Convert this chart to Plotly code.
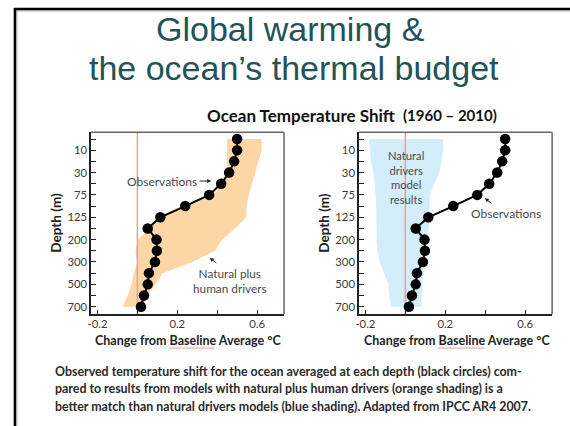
import plotly.graph_objects as go

# ---------------- data ----------------
depth_labels = ["5", "10", "20", "30", "50", "75", "100", "125",
                "150", "200", "250", "300", "400", "500", "600", "700"]
labelled_depths = ["10", "30", "75", "125", "200", "300", "500", "700"]
obs_change = [0.50, 0.50, 0.485, 0.46, 0.42, 0.36, 0.24, 0.115,
              0.052, 0.096, 0.098, 0.088, 0.058, 0.052, 0.033, 0.018]
human_lo = [0.449, 0.45, 0.45, 0.444, 0.42, 0.385, 0.22, 0.10,
            0.06, 0.005, -0.01, 0.0, -0.018, -0.03, -0.048, -0.073]
human_hi = [0.623, 0.623, 0.607, 0.59, 0.575, 0.558, 0.548, 0.545,
            0.49, 0.424, 0.39, 0.275, 0.126, 0.092, 0.051, 0.03]
natural_lo = [-0.182, -0.178, -0.172, -0.16, -0.154, -0.149, -0.146, -0.144,
              -0.144, -0.144, -0.14, -0.128, -0.106, -0.085, -0.08, -0.07]
natural_hi = [0.19, 0.188, 0.182, 0.17, 0.145, 0.124, 0.121, 0.12,
              0.117, 0.108, 0.104, 0.1, 0.092, 0.085, 0.082, 0.08]
x_ticks = [-0.2, 0.0, 0.2, 0.4, 0.6]
x_tick_labels = ["-0.2", "", "0.2", "", "0.6"]
baseline = 0.0
x_range = [-0.232, 0.735]
y_range = [15.68, -0.6]

# ---------------- geometry helpers ----------------
W, H = 570, 426


def px(x):
    return x / W


def py(y):
    return 1 - y / H


y_pos = list(range(len(depth_labels)))
y_ticktext = [d if d in labelled_depths else "" for d in depth_labels]

ORANGE = "#FDD6A6"
BLUE = "#D4EDFA"
TXT = "#3a3a3a"
FONT = "Lato"

fig = go.Figure()

panels = [("x", "y", human_lo, human_hi, ORANGE),
          ("x2", "y2", natural_lo, natural_hi, BLUE)]
for xa, ya, lo, hi, col in panels:
    fig.add_trace(go.Scatter(
        x=lo + hi[::-1], y=y_pos + y_pos[::-1], fill="toself",
        fillcolor=col, line=dict(width=0), mode="lines",
        hoverinfo="skip", xaxis=xa, yaxis=ya))
    fig.add_trace(go.Scatter(
        x=[baseline, baseline], y=y_range, mode="lines",
        line=dict(color="#d8a49c", width=1.5), hoverinfo="skip",
        xaxis=xa, yaxis=ya))
    fig.add_trace(go.Scatter(
        x=obs_change, y=y_pos, mode="lines+markers",
        line=dict(color="black", width=2),
        marker=dict(color="black", size=10.5),
        xaxis=xa, yaxis=ya))

xdomains = [[px(87.7), px(282)], [px(357.5), px(552)]]
ydomain = [py(314.3), py(132.3)]

axis_font = dict(family=FONT, size=11.3, color=TXT)
for i, (xd) in enumerate(xdomains):
    sx = "" if i == 0 else "2"
    fig.update_layout(**{
        "xaxis" + sx: dict(
            domain=xd, range=x_range, anchor="y" + sx,
            tickmode="array", tickvals=x_ticks, ticktext=x_tick_labels,
            ticks="inside", ticklen=5, tickwidth=1, tickcolor="#222",
            ticklabelstandoff=-2,
            showline=True, linecolor="#222", linewidth=1.5,
            showgrid=False, zeroline=False, tickfont=axis_font),
        "yaxis" + sx: dict(
            domain=ydomain, range=y_range, anchor="x" + sx,
            tickmode="array", tickvals=y_pos, ticktext=y_ticktext,
            ticks="inside", ticklen=5, tickwidth=1, tickcolor="#222",
            showline=True, linecolor="#222", linewidth=1.5,
            showgrid=False, zeroline=False, tickfont=axis_font),
    })

shapes = []
# top / right panel frame lines (gray)
for sx in ["", "2"]:
    shapes.append(dict(type="line", xref="x" + sx + " domain", yref="y" + sx + " domain",
                       x0=0, x1=1, y0=1, y1=1, line=dict(color="#666", width=1.5)))
    shapes.append(dict(type="line", xref="x" + sx + " domain", yref="y" + sx + " domain",
                       x0=1, x1=1, y0=0, y1=1, line=dict(color="#666", width=1.5)))
# slide frame
shapes.append(dict(type="line", xref="paper", yref="paper", x0=px(10), x1=1,
                   y0=py(11), y1=py(11), line=dict(color="#b0b0b0", width=1)))
shapes.append(dict(type="line", xref="paper", yref="paper", x0=px(13), x1=px(13),
                   y0=py(10), y1=0, line=dict(color="#b0b0b0", width=1)))
shapes.append(dict(type="line", xref="paper", yref="paper", x0=px(10), x1=1,
                   y0=py(9), y1=py(9), line=dict(color="black", width=2.5)))
shapes.append(dict(type="line", xref="paper", yref="paper", x0=px(11), x1=px(11),
                   y0=py(8), y1=0, line=dict(color="black", width=2.5)))
# spell-check underline under "Baseline"
for x0, x1 in [(167, 212), (437, 484)]:
    shapes.append(dict(type="line", xref="paper", yref="paper", x0=px(x0), x1=px(x1),
                       y0=py(348), y1=py(348), line=dict(color="#e59a9a", width=1)))

ann = []
# title
TITLE_COL = "#24525a"
ann.append(dict(text="Global warming &", x=px(289), y=py(29), xref="paper", yref="paper",
                showarrow=False, xanchor="center", yanchor="middle",
                font=dict(family="Liberation Sans", size=34, color=TITLE_COL)))
ann.append(dict(text="the ocean\u2019s thermal budget", x=px(292), y=py(68), xref="paper",
                yref="paper", showarrow=False, xanchor="center", yanchor="middle",
                font=dict(family="Liberation Sans", size=34, color=TITLE_COL)))
# subtitle
ann.append(dict(text="<b>Ocean Temperature Shift</b>", x=px(202), y=py(115), xref="paper",
                yref="paper", showarrow=False, xanchor="left", yanchor="middle",
                font=dict(family=FONT, size=17, color="#111")))
ann.append(dict(text="<b>(1960 \u2013 2010)</b>", x=px(400), y=py(115), xref="paper",
                yref="paper", showarrow=False, xanchor="left", yanchor="middle",
                font=dict(family=FONT, size=15, color="#111")))
# axis titles
for cx, dx in [(185.3, 52), (456.6, 322)]:
    ann.append(dict(text="<b>Change from Baseline Average \u00b0C</b>", x=px(cx), y=py(340),
                    xref="paper", yref="paper", showarrow=False, xanchor="center",
                    yanchor="middle", font=dict(family=FONT, size=12.5, color="#222")))
    ann.append(dict(text="<b>Depth (m)</b>", x=px(dx), y=py(223), xref="paper",
                    yref="paper", showarrow=False, textangle=-90, xanchor="center",
                    yanchor="middle", font=dict(family=FONT, size=13.5, color="#222")))
# in-panel labels
LAB = "#4a4a4a"
ann.append(dict(text="Observations", x=0.121, y=3.76, xref="x", yref="y", showarrow=False,
                xanchor="center", yanchor="middle", font=dict(family=FONT, size=12, color=LAB)))
ann.append(dict(text="", x=0.37, y=3.76, xref="x", yref="y", showarrow=True, ax=-13, ay=0,
                arrowhead=2, arrowsize=0.8, arrowwidth=1, arrowcolor="#222"))
ann.append(dict(text="Natural plus<br>human drivers", x=0.465, y=12.7, xref="x", yref="y",
                showarrow=False, xanchor="center", yanchor="middle",
                font=dict(family=FONT, size=11.8, color=LAB)))
ann.append(dict(text="", x=0.363, y=10.64, xref="x", yref="y", showarrow=True, ax=8, ay=6,
                arrowhead=2, arrowsize=0.8, arrowwidth=1, arrowcolor="#222"))
ann.append(dict(text="Natural<br>drivers<br>model<br>results", x=0.005, y=3.45,
                xref="x2", yref="y2", showarrow=False, xanchor="center", yanchor="middle",
                font=dict(family=FONT, size=11.2, color=LAB)))
ann.append(dict(text="Observations", x=0.506, y=6.7, xref="x2", yref="y2", showarrow=False,
                xanchor="center", yanchor="middle", font=dict(family=FONT, size=12, color=LAB)))
ann.append(dict(text="", x=0.398, y=5.3, xref="x2", yref="y2", showarrow=True, ax=8, ay=6,
                arrowhead=2, arrowsize=0.8, arrowwidth=1, arrowcolor="#222"))
# caption
caption_lines = [
    "Observed temperature shift for the ocean averaged at each depth (black circles) com-",
    "pared to results from models with natural plus human drivers (orange shading) is a",
    "better match than natural drivers models (blue shading). Adapted from IPCC AR4 2007.",
]
for i, line in enumerate(caption_lines):
    ann.append(dict(text="<b>" + line + "</b>", x=px(49), y=py(371 + 17.5 * i), xref="paper",
                    yref="paper", showarrow=False, xanchor="left", yanchor="middle",
                    font=dict(family=FONT, size=12.4, color="#2a2a2a")))

fig.update_layout(
    width=W, height=H, margin=dict(l=0, r=0, t=0, b=0),
    paper_bgcolor="white", plot_bgcolor="white", showlegend=False,
    shapes=shapes, annotations=ann,
)

fig.write_html("out.html")
